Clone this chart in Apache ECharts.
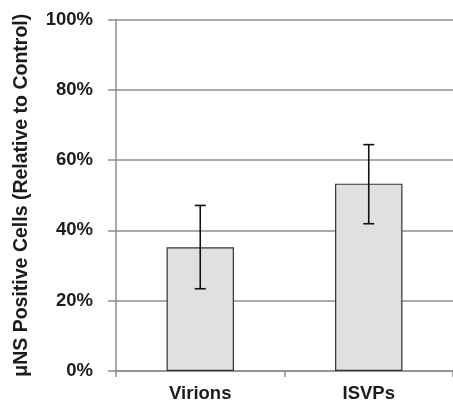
<!DOCTYPE html>
<html>
<head>
<meta charset="utf-8">
<script src="https://cdn.jsdelivr.net/npm/echarts@6/dist/echarts.min.js"></script>
<style>html,body{margin:0;padding:0;background:#fff;}#c{width:453px;height:403px;}</style>
</head>
<body>
<div id="c"></div>
<script>
var categories = ['Virions', 'ISVPs'];
var values = [35.2, 53.3];
var errLow = [23.4, 41.9];
var errHigh = [47.1, 64.4];
var yTicks = [0, 20, 40, 60, 80, 100];

var chart = echarts.init(document.getElementById('c'), null, {renderer: 'canvas'});
var errData = categories.map(function (c, i) { return [i, errLow[i], errHigh[i]]; });
var gridColor = '#8e8e8e';
var textColor = '#1c1c1c';
var font = 'Liberation Sans, Arial, sans-serif';
chart.setOption({
  animation: false,
  grid: {left: 116, right: -3, top: 19.5, bottom: 29},
  xAxis: {
    type: 'category',
    data: categories,
    axisLine: {lineStyle: {color: gridColor, width: 1.5}},
    axisTick: {show: true, length: 6, lineStyle: {color: gridColor, width: 1.5}},
    axisLabel: {color: textColor, fontFamily: font, fontWeight: 'bold', fontSize: 18.5, margin: 13}
  },
  yAxis: {
    type: 'value',
    min: yTicks[0], max: yTicks[yTicks.length - 1], interval: 20,
    name: 'μNS Positive Cells (Relative to Control)',
    nameLocation: 'middle',
    nameGap: 84,
    nameTextStyle: {color: textColor, fontFamily: font, fontWeight: 'bold', fontSize: 19.5},
    axisLine: {show: true, lineStyle: {color: gridColor, width: 1.5}},
    axisTick: {show: true, inside: false, length: 8, lineStyle: {color: gridColor, width: 1.5}},
    axisLabel: {formatter: '{value}%', color: textColor, fontFamily: font, fontWeight: 'bold', fontSize: 18.5, margin: 23},
    splitLine: {show: true, lineStyle: {color: gridColor, width: 1.5}}
  },
  series: [
    {
      type: 'bar',
      data: values,
      barWidth: '40%',
      itemStyle: {color: '#e0e0e0', borderColor: '#333', borderWidth: 1.2},
      z: 2
    },
    {
      type: 'custom',
      data: errData,
      z: 3,
      renderItem: function (params, api) {
        var x = api.value(0);
        var lo = api.coord([x, api.value(1)]);
        var hi = api.coord([x, api.value(2)]);
        var hw = 5.5;
        var st = {stroke: '#111', lineWidth: 1.6, fill: null};
        return {
          type: 'group',
          children: [
            {type: 'line', shape: {x1: lo[0], y1: lo[1], x2: hi[0], y2: hi[1]}, style: st},
            {type: 'line', shape: {x1: lo[0] - hw, y1: lo[1], x2: lo[0] + hw, y2: lo[1]}, style: st},
            {type: 'line', shape: {x1: hi[0] - hw, y1: hi[1], x2: hi[0] + hw, y2: hi[1]}, style: st}
          ]
        };
      }
    }
  ]
});
</script>
</body>
</html>
